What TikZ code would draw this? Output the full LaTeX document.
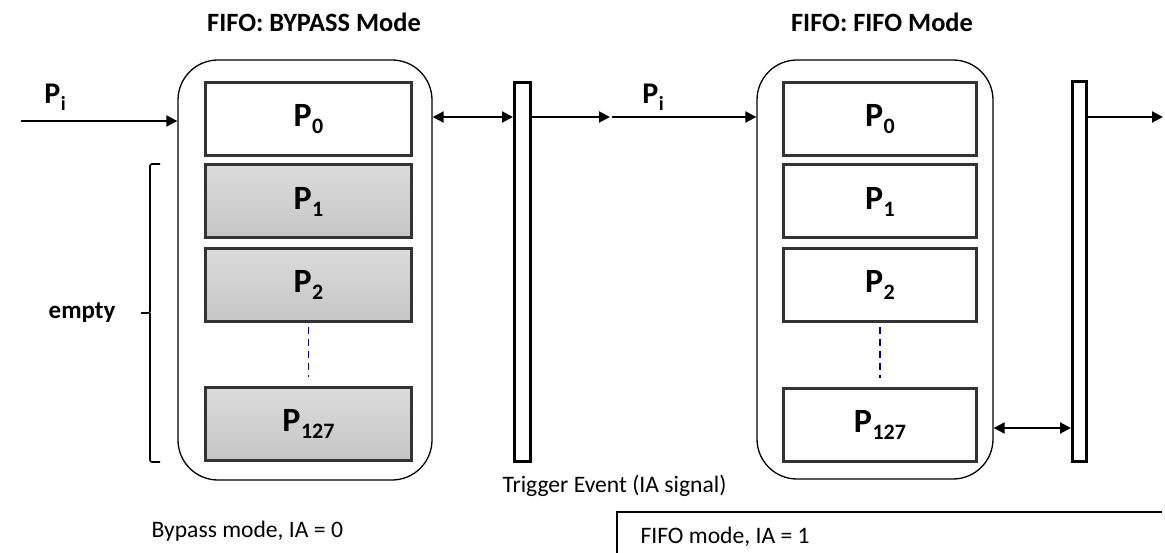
\documentclass[tikz,border=0pt]{standalone}
\usepackage{fontspec}
\setmainfont{Carlito}
\usetikzlibrary{arrows.meta}
\newcommand{\Psb}[1]{P\kern0.5pt\raisebox{-7pt}{\fontsize{22}{24}\selectfont #1}}
\newcommand{\Pinlbl}[1]{P\kern0.5pt\raisebox{-7pt}{\fontsize{20}{22}\selectfont #1}}
\tikzset{
 cont/.style={draw, rounded corners=40pt, line width=1.3pt, inner sep=0},
 slot/.style={draw=black!80, line width=3pt, inner sep=0, minimum height=73pt, font=\fontsize{34}{36}\selectfont\bfseries},
 emptyslot/.style={slot, top color=gray!28, bottom color=gray!45},
 fullslot/.style={slot, fill=white},
 bar/.style={draw, line width=3pt, fill=white, minimum height=379pt, inner sep=0},
 conn/.style={line width=2pt, -{Triangle[length=11pt,width=11pt]}},
 bconn/.style={line width=2pt, {Triangle[length=11pt,width=11pt]}-{Triangle[length=11pt,width=11pt]}},
 title/.style={font=\fontsize{26.4}{28}\selectfont\bfseries},
 lbl/.style={font=\fontsize{23.6}{26}\selectfont},
 plbl/.style={font=\fontsize{30}{32}\selectfont\bfseries},
 dots/.style={draw=blue!45!black, line width=1.5pt, dash pattern=on 7pt off 5pt}
}
\begin{document}
\begin{tikzpicture}[x=1pt,y=-1pt]
\useasboundingbox (0,0) rectangle (1165,553);
% titles
\node[title] (t1) at (314,22) {FIFO: BYPASS Mode};
\node[title] (t2) at (882,22) {FIFO: FIFO Mode};
% left container
\node[cont, minimum width=254pt, minimum height=420pt] (c1) at (305,270) {};
\node[fullslot, minimum width=206pt] (a0) at (308.5,119) {\Psb{0}};
\node[emptyslot, minimum width=206pt] (a1) at (308.5,201.5) {\Psb{1}};
\node[emptyslot, minimum width=206pt] (a2) at (308.5,285) {\Psb{2}};
\node[emptyslot, minimum width=206pt] (a3) at (308.5,423.5) {\Psb{127}};
\draw[dots, shorten <=4pt, shorten >=9pt] (a2) -- (a3);
% right container
\node[cont, minimum width=236pt, minimum height=419pt] (c2) at (875,269.5) {};
\node[fullslot, minimum width=193pt] (b0) at (880,119.5) {\Psb{0}};
\node[fullslot, minimum width=193pt] (b1) at (880,201.5) {\Psb{1}};
\node[fullslot, minimum width=193pt] (b2) at (880,285) {\Psb{2}};
\node[fullslot, minimum width=193pt] (b3) at (880,424.5) {\Psb{127}};
\draw[dots, shorten <=4pt, shorten >=9pt] (b2) -- (b3);
% bars
\node[bar, minimum width=16pt] (r1) at (522.5,272) {};
\node[bar, minimum width=14pt] (r2) at (1079.5,271.5) {};
% input / output
\coordinate (in1) at (21,121);
\draw[conn] (in1) -- (c1.west |- in1);
\node[plbl] (pi1) at (55,97) {\Pinlbl{i}};
\draw[bconn] (c1.east |- 0,117) -- (r1.west |- 0,117);
\coordinate (o1) at (610,117);
\draw[conn] (r1.east |- o1) -- (o1);
\coordinate (in2) at (612,117);
\draw[conn] (in2) -- (c2.west |- in2);
\node[plbl] (pi2) at (653,97) {\Pinlbl{i}};
\coordinate (o2) at (1163,117);
\draw[conn] (r2.east |- o2) -- (o2);
\draw[bconn] (c2.east |- 0,428) -- (r2.west |- 0,428);
% brace
\draw[line width=1.6pt, rounded corners=2pt] (160,164) -- (150,164) -- (150,313) -- (141,313) (150,313) -- (150,462) -- (160,462);
\node[title, font=\fontsize{25}{27}\selectfont\bfseries, anchor=east] (em) at (119,313) {empty};
% signal
\node[lbl, anchor=west] (trg) at (499,486) {Trigger Event (IA signal)};
\node[lbl, anchor=west] (byp) at (148,531) {Bypass mode, IA = 0};
\node[lbl, anchor=west] (ff) at (637,537) {FIFO mode, IA = 1};
\coordinate (s0) at (617,553);
\coordinate (s1) at (617,512);
\coordinate (s2) at (1162,512);
\draw[line width=2.5pt] (s0) -- (s1) -- (s2);
\end{tikzpicture}
\end{document}
